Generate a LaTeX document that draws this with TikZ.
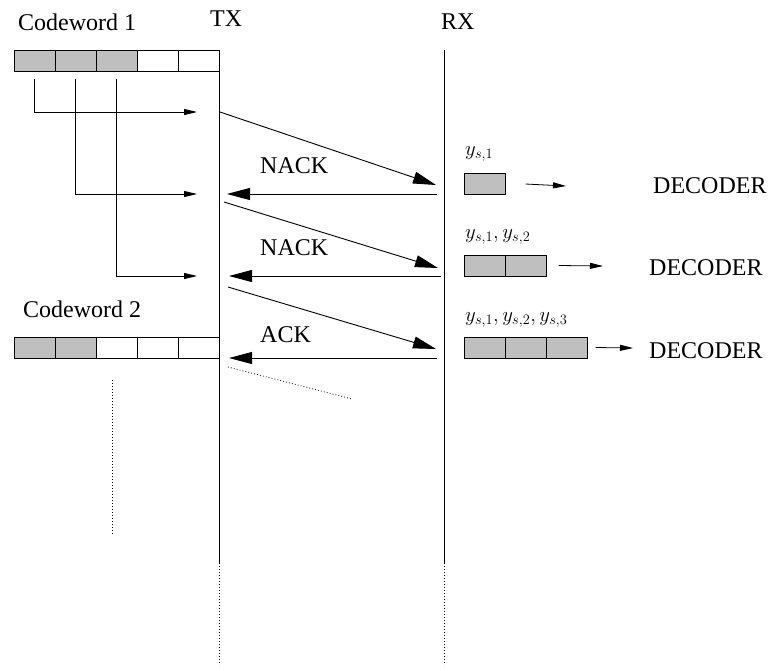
\documentclass[tikz,border=0pt]{standalone}
\usepackage{fontspec}
\setmainfont{Liberation Serif}
\usetikzlibrary{arrows.meta}
\begin{document}
\begin{tikzpicture}[x=1pt,y=-1pt,
  cellbox/.style={draw, line width=0.9pt, minimum width=41pt, minimum height=21pt, inner sep=0pt, outer sep=0pt},
  full/.style={cellbox, fill=black!25},
  lbl/.style={inner sep=0pt, anchor=base west, font=\fontsize{24}{28}\selectfont},
  mlbl/.style={inner sep=0pt, anchor=base west, font=\fontsize{19.5}{22}\selectfont},
  axis/.style={line width=0.9pt},
  bigarrow/.style={line width=0.9pt, -{Triangle[length=23pt,width=12pt]}},
  smallarrow/.style={line width=0.8pt, -{Triangle[length=13pt,width=6pt]}},
  dots/.style={line width=0.8pt, dash pattern=on 0.8pt off 2.2pt}]
\useasboundingbox (0,0) rectangle (773,670);

% labels
\node[lbl] (cw1) at (18,30) {Codeword 1};
\node[lbl] (tx) at (210,26) {TX};
\node[lbl] (rx) at (441,29) {RX};
\node[lbl] (cw2) at (23,317) {Codeword 2};
\node[lbl] (n1) at (260,173) {NACK};
\node[lbl] (n2) at (260,255) {NACK};
\node[lbl] (ack) at (260,342) {ACK};
\node[lbl] (d1) at (653,193) {DECODER};
\node[lbl] (d2) at (649,275) {DECODER};
\node[lbl] (d3) at (649,358) {DECODER};
\node[mlbl] (m1) at (465,155) {$y_{s,1}$};
\node[mlbl] (m2) at (465,238) {$y_{s,1}, y_{s,2}$};
\node[mlbl] (m3) at (465,321) {$y_{s,1}, y_{s,2}, y_{s,3}$};

% codeword 1
\node[full] (a1) at (34.5,60.5) {};
\node[full] (a2) at (75.5,60.5) {};
\node[full] (a3) at (116.5,60.5) {};
\node[cellbox] (a4) at (157.5,60.5) {};
\node[cellbox] (a5) at (198.5,60.5) {};
% codeword 2
\node[full] (b1) at (34.5,348) {};
\node[full] (b2) at (75.5,348) {};
\node[cellbox] (b3) at (116.5,348) {};
\node[cellbox] (b4) at (157.5,348) {};
\node[cellbox] (b5) at (198.5,348) {};

% receiver buffers
\node[full] (r11) at (485,184) {};
\node[full] (r21) at (485,265.5) {};
\node[full] (r22) at (526,265.5) {};
\node[full] (r31) at (485,347.5) {};
\node[full] (r32) at (526,347.5) {};
\node[full] (r33) at (567,347.5) {};

% time axes
\coordinate (txtop) at (219,50);
\coordinate (txend) at (219,563);
\coordinate (txbot) at (219,665);
\coordinate (rxtop) at (444,50);
\coordinate (rxend) at (444,563);
\coordinate (rxbot) at (444,665);
\draw[axis] (txtop) -- (txend);
\draw[axis] (rxtop) -- (rxend);
\draw[dots] (txend) -- (txbot);
\draw[dots] (rxend) -- (rxbot);

% feed arrows
\coordinate (f1) at (197,112);
\coordinate (f2) at (197,194);
\coordinate (f3) at (197,276);
\draw[smallarrow] ([yshift=-8pt]a1.south) |- (f1);
\draw[smallarrow] ([yshift=-8pt]a2.south) |- (f2);
\draw[smallarrow] ([yshift=-8pt]a3.south) |- (f3);

% transmissions
\coordinate (s1) at (220,112);
\coordinate (e1) at (436,185);
\coordinate (s2) at (224,202);
\coordinate (e2) at (438,268);
\coordinate (s3) at (228,287);
\coordinate (e3) at (436,349);
\draw[bigarrow] (s1) -- (e1);
\draw[bigarrow] (s2) -- (e2);
\draw[bigarrow] (s3) -- (e3);

% feedback
\coordinate (k1) at (437,194);
\coordinate (k1t) at (227,194);
\coordinate (k2) at (441,276);
\coordinate (k2t) at (229,276);
\coordinate (k3) at (437,358);
\coordinate (k3t) at (229,358);
\draw[bigarrow] (k1) -- (k1t);
\draw[bigarrow] (k2) -- (k2t);
\draw[bigarrow] (k3) -- (k3t);

% decoder arrows
\coordinate (g1) at (566,186);
\coordinate (g2) at (603,266);
\coordinate (g3) at (633,348);
\draw[smallarrow] ([xshift=20pt]r11.east) -- (g1);
\draw[smallarrow] ([xshift=12pt]r22.east) -- (g2);
\draw[smallarrow] ([xshift=8pt]r33.east) -- (g3);

% continuation dots
\coordinate (v1) at (112,380);
\coordinate (v2) at (112,535);
\draw[dots] (v1) -- (v2);
\coordinate (w1) at (228,367);
\coordinate (w2) at (352,399);
\draw[dots] (w1) -- (w2);
\end{tikzpicture}
\end{document}
